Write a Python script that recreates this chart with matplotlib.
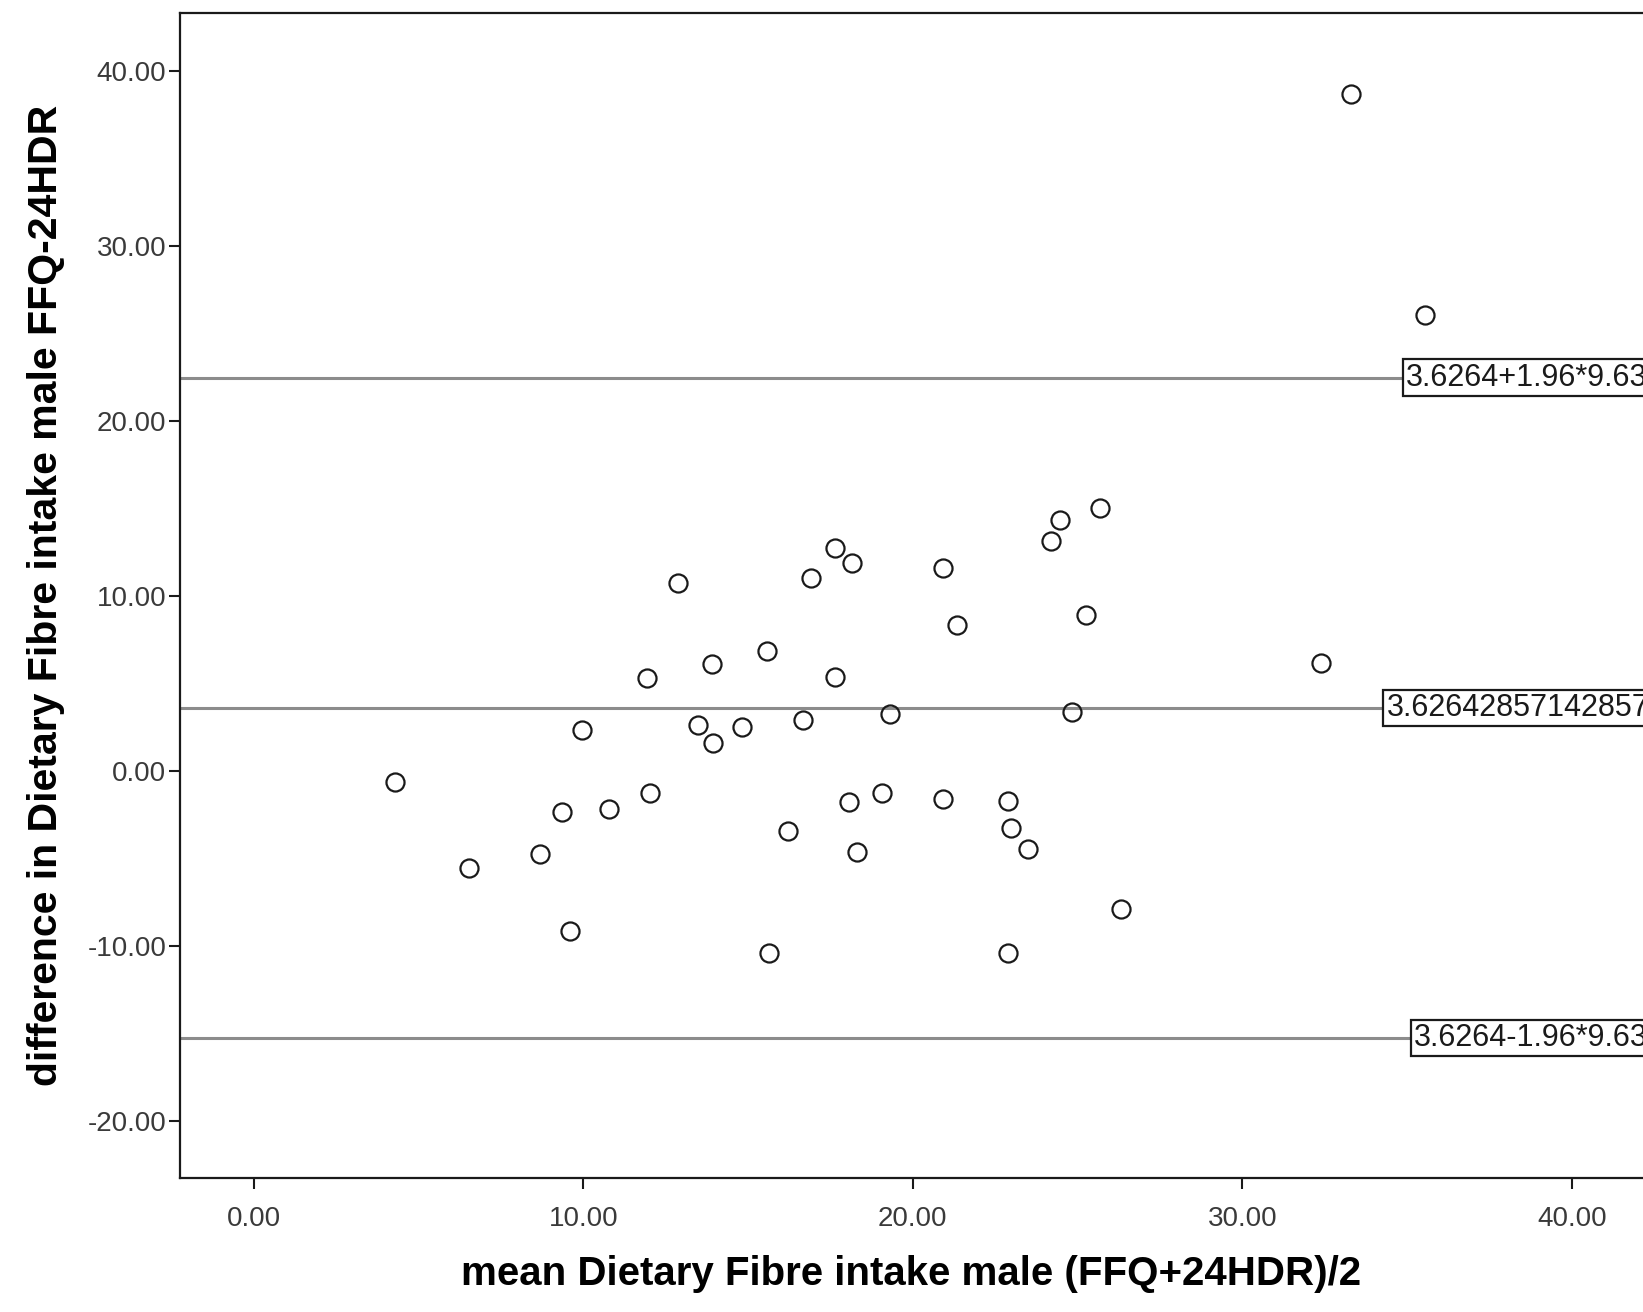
import matplotlib
matplotlib.use("Agg")
import matplotlib.pyplot as plt
import numpy as np

plt.rcParams['font.family'] = ['Liberation Sans', 'DejaVu Sans']

# Bland-Altman data: mean of the two methods vs. their difference
mean_intake = [33.29, 35.55, 25.69, 24.45, 24.20, 17.65, 18.16, 20.92, 12.88, 16.92,
               25.25, 21.34, 32.37, 15.58, 13.90, 11.92, 17.65, 19.30, 24.83, 13.48,
               14.82, 16.66, 9.95, 13.93, 4.29, 12.02, 9.35, 10.78, 19.05, 18.06,
               20.92, 22.89, 22.99, 16.22, 8.68, 18.31, 23.50, 6.52, 26.30, 9.60,
               15.64, 22.89]
difference = [38.68, 26.05, 15.03, 14.37, 13.17, 12.75, 11.92, 11.62, 10.78, 11.02,
              8.92, 8.38, 6.17, 6.89, 6.11, 5.33, 5.39, 3.29, 3.41, 2.63,
              2.51, 2.93, 2.34, 1.62, -0.60, -1.26, -2.34, -2.16, -1.26, -1.74,
              -1.56, -1.68, -3.23, -3.41, -4.73, -4.61, -4.43, -5.51, -7.84, -9.10,
              -10.36, -10.36]

mean_diff = 3.62642857142857
sd_diff = 9.63
upper_loa = mean_diff + 1.96 * sd_diff
lower_loa = mean_diff - 1.96 * sd_diff

ref_lines = [upper_loa, mean_diff, lower_loa]
ref_labels = ["3.6264+1.96*9.63", "3.62642857142857", "3.6264-1.96*9.63"]
label_x = [34.96, 34.37, 35.19]

x_ticks = [0, 10, 20, 30, 40]
y_ticks = [-20, -10, 0, 10, 20, 30, 40]

fig = plt.figure(figsize=(16.43, 13.12), dpi=100)
ax = fig.add_axes([0.1096, 0.1021, 0.8904, 0.8880])

for yv in ref_lines:
    ax.axhline(yv, color='#8c8c8c', lw=2.2, zorder=1)

ax.plot(mean_intake, difference, linestyle='none', marker='o', markersize=13,
        markerfacecolor='none', markeredgecolor='#1a1a1a', markeredgewidth=1.6, zorder=3)

for yv, txt, xv in zip(ref_lines, ref_labels, label_x):
    ax.text(xv, yv, txt, ha='left', va='center', fontsize=22, color='#1a1a1a',
            clip_on=False, zorder=4,
            bbox=dict(boxstyle='square,pad=0.1', facecolor='white',
                      edgecolor='#1a1a1a', linewidth=1.6))

ax.set_xlim(-2.23, 42.15)
ax.set_ylim(-23.24, 43.33)
ax.set_xticks(x_ticks)
ax.set_yticks(y_ticks)
ax.set_xticklabels([f"{v:.2f}" for v in x_ticks])
ax.set_yticklabels([f"{v:.2f}" for v in y_ticks])

ax.tick_params(axis='both', direction='out', length=8, width=1.5, colors='#1a1a1a',
               labelsize=20, labelcolor='#3a3a3a')
ax.tick_params(axis='x', pad=12)
ax.tick_params(axis='y', pad=2)

for side in ['left', 'bottom', 'top']:
    ax.spines[side].set_linewidth(1.6)
    ax.spines[side].set_color('#1a1a1a')
ax.spines['right'].set_visible(False)

ax.set_xlabel("mean Dietary Fibre intake male (FFQ+24HDR)/2", fontsize=29,
              fontweight='bold', labelpad=17)
ax.set_ylabel("difference in Dietary Fibre intake male FFQ-24HDR", fontsize=29.5,
              fontweight='bold', labelpad=16)

fig.savefig("out.png", dpi=100)
